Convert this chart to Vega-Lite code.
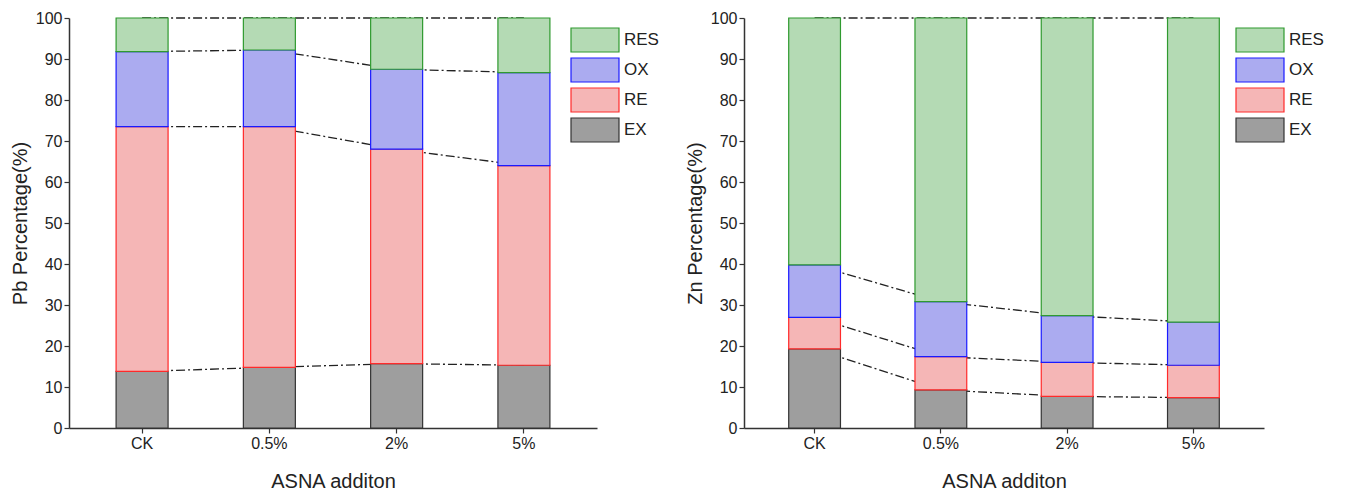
{
  "$schema": "https://vega.github.io/schema/vega-lite/v6.json",
  "padding": {"left": 10, "top": 10, "right": 0, "bottom": 0},
  "autosize": {"type": "pad"},
  "config": {
    "font": "Liberation Sans",
    "view": {"stroke": null},
    "axis": {
      "labelFontSize": 16, "titleFontSize": 20, "titleFontWeight": "normal",
      "labelColor": "#222", "titleColor": "#222",
      "domainColor": "#333", "tickColor": "#333", "domainWidth": 1.5, "tickWidth": 1.2,
      "tickSize": 5, "labelPadding": 2, "grid": false
    },
    "legend": {"labelFontSize": 17, "labelColor": "#222"}
  },
  "data": {"values": [
    {"metal": "Pb", "treat": "CK", "fraction": "EX", "rank": 1, "value": 13.8},
    {"metal": "Pb", "treat": "CK", "fraction": "RE", "rank": 2, "value": 59.7},
    {"metal": "Pb", "treat": "CK", "fraction": "OX", "rank": 3, "value": 18.3},
    {"metal": "Pb", "treat": "CK", "fraction": "RES", "rank": 4, "value": 8.2},
    {"metal": "Pb", "treat": "0.5%", "fraction": "EX", "rank": 1, "value": 14.8},
    {"metal": "Pb", "treat": "0.5%", "fraction": "RE", "rank": 2, "value": 58.7},
    {"metal": "Pb", "treat": "0.5%", "fraction": "OX", "rank": 3, "value": 18.7},
    {"metal": "Pb", "treat": "0.5%", "fraction": "RES", "rank": 4, "value": 7.8},
    {"metal": "Pb", "treat": "2%", "fraction": "EX", "rank": 1, "value": 15.7},
    {"metal": "Pb", "treat": "2%", "fraction": "RE", "rank": 2, "value": 52.3},
    {"metal": "Pb", "treat": "2%", "fraction": "OX", "rank": 3, "value": 19.5},
    {"metal": "Pb", "treat": "2%", "fraction": "RES", "rank": 4, "value": 12.5},
    {"metal": "Pb", "treat": "5%", "fraction": "EX", "rank": 1, "value": 15.3},
    {"metal": "Pb", "treat": "5%", "fraction": "RE", "rank": 2, "value": 48.7},
    {"metal": "Pb", "treat": "5%", "fraction": "OX", "rank": 3, "value": 22.7},
    {"metal": "Pb", "treat": "5%", "fraction": "RES", "rank": 4, "value": 13.3},
    {"metal": "Zn", "treat": "CK", "fraction": "EX", "rank": 1, "value": 19.3},
    {"metal": "Zn", "treat": "CK", "fraction": "RE", "rank": 2, "value": 7.7},
    {"metal": "Zn", "treat": "CK", "fraction": "OX", "rank": 3, "value": 12.8},
    {"metal": "Zn", "treat": "CK", "fraction": "RES", "rank": 4, "value": 60.2},
    {"metal": "Zn", "treat": "0.5%", "fraction": "EX", "rank": 1, "value": 9.3},
    {"metal": "Zn", "treat": "0.5%", "fraction": "RE", "rank": 2, "value": 8.1},
    {"metal": "Zn", "treat": "0.5%", "fraction": "OX", "rank": 3, "value": 13.4},
    {"metal": "Zn", "treat": "0.5%", "fraction": "RES", "rank": 4, "value": 69.2},
    {"metal": "Zn", "treat": "2%", "fraction": "EX", "rank": 1, "value": 7.7},
    {"metal": "Zn", "treat": "2%", "fraction": "RE", "rank": 2, "value": 8.3},
    {"metal": "Zn", "treat": "2%", "fraction": "OX", "rank": 3, "value": 11.4},
    {"metal": "Zn", "treat": "2%", "fraction": "RES", "rank": 4, "value": 72.6},
    {"metal": "Zn", "treat": "5%", "fraction": "EX", "rank": 1, "value": 7.4},
    {"metal": "Zn", "treat": "5%", "fraction": "RE", "rank": 2, "value": 7.9},
    {"metal": "Zn", "treat": "5%", "fraction": "OX", "rank": 3, "value": 10.5},
    {"metal": "Zn", "treat": "5%", "fraction": "RES", "rank": 4, "value": 74.2}
  ]},
  "spacing": 26,
  "resolve": {"scale": {"fill": "independent", "stroke": "independent"}, "legend": {"fill": "independent", "stroke": "independent"}},
  "hconcat": [
    {
      "width": 528, "height": 410,
      "transform": [
        {"filter": "datum.metal == 'Pb'"},
        {"stack": "value", "groupby": ["treat"], "sort": [{"field": "rank", "order": "ascending"}], "as": ["y0", "y1"]}
      ],
      "encoding": {
        "x": {"field": "treat", "type": "nominal", "sort": ["CK", "0.5%", "2%", "5%"],
              "scale": {"paddingInner": 0.5915, "paddingOuter": 0.37},
              "axis": {"title": "ASNA  additon", "labelAngle": 0, "titlePadding": 20}}
      },
      "layer": [
        {
          "mark": {"type": "line", "color": "#222", "strokeWidth": 1.3, "strokeDash": [9, 3, 2, 3]},
          "encoding": {
            "y": {"field": "y1", "type": "quantitative", "scale": {"domain": [0, 100]},
                  "axis": {"title": "Pb Percentage(%)", "values": [0,10,20,30,40,50,60,70,80,90,100], "titlePadding": 5}},
            "detail": {"field": "fraction"},
            "order": {"value": null}
          }
        },
        {
          "mark": {"type": "bar", "strokeWidth": 1.2, "opacity": 1},
          "encoding": {
            "y": {"field": "y0", "type": "quantitative"},
            "y2": {"field": "y1"},
            "fill": {"field": "fraction", "type": "nominal",
                     "scale": {"domain": ["RES", "OX", "RE", "EX"], "range": ["#b4dab4", "#ababf0", "#f5b6b6", "#9e9e9e"]},
                     "legend": {"orient": "none", "legendX": 513, "legendY": 9, "title": null,
                                "symbolType": "M-2,-1H2V1H-2Z", "symbolSize": 576, "labelOffset": 16,
                                "rowPadding": 0, "padding": 0, "symbolStrokeWidth": 1.2, "symbolOpacity": 1}},
            "stroke": {"field": "fraction", "type": "nominal",
                       "scale": {"domain": ["RES", "OX", "RE", "EX"], "range": ["#2f9a2f", "#1a1aff", "#ff2a2a", "#333333"]},
                       "legend": {"orient": "none", "legendX": 513, "legendY": 9, "title": null,
                                  "symbolType": "M-2,-1H2V1H-2Z", "symbolSize": 576, "labelOffset": 16,
                                  "rowPadding": 0, "padding": 0, "symbolStrokeWidth": 1.2, "symbolOpacity": 1}}
          }
        }
      ]
    },
    {
      "width": 520, "height": 410,
      "transform": [
        {"filter": "datum.metal == 'Zn'"},
        {"stack": "value", "groupby": ["treat"], "sort": [{"field": "rank", "order": "ascending"}], "as": ["y0", "y1"]}
      ],
      "encoding": {
        "x": {"field": "treat", "type": "nominal", "sort": ["CK", "0.5%", "2%", "5%"],
              "scale": {"paddingInner": 0.59, "paddingOuter": 0.354},
              "axis": {"title": "ASNA  additon", "labelAngle": 0, "titlePadding": 20}}
      },
      "layer": [
        {
          "mark": {"type": "line", "color": "#222", "strokeWidth": 1.3, "strokeDash": [9, 3, 2, 3]},
          "encoding": {
            "y": {"field": "y1", "type": "quantitative", "scale": {"domain": [0, 100]},
                  "axis": {"title": "Zn Percentage(%)", "values": [0,10,20,30,40,50,60,70,80,90,100], "titlePadding": 5}},
            "detail": {"field": "fraction"},
            "order": {"value": null}
          }
        },
        {
          "mark": {"type": "bar", "strokeWidth": 1.2, "opacity": 1},
          "encoding": {
            "y": {"field": "y0", "type": "quantitative"},
            "y2": {"field": "y1"},
            "fill": {"field": "fraction", "type": "nominal",
                     "scale": {"domain": ["RES", "OX", "RE", "EX"], "range": ["#b4dab4", "#ababf0", "#f5b6b6", "#9e9e9e"]},
                     "legend": {"orient": "none", "legendX": 503, "legendY": 9, "title": null,
                                "symbolType": "M-2,-1H2V1H-2Z", "symbolSize": 576, "labelOffset": 16,
                                "rowPadding": 0, "padding": 0, "symbolStrokeWidth": 1.2, "symbolOpacity": 1}},
            "stroke": {"field": "fraction", "type": "nominal",
                       "scale": {"domain": ["RES", "OX", "RE", "EX"], "range": ["#2f9a2f", "#1a1aff", "#ff2a2a", "#333333"]},
                       "legend": {"orient": "none", "legendX": 503, "legendY": 9, "title": null,
                                  "symbolType": "M-2,-1H2V1H-2Z", "symbolSize": 576, "labelOffset": 16,
                                  "rowPadding": 0, "padding": 0, "symbolStrokeWidth": 1.2, "symbolOpacity": 1}}
          }
        }
      ]
    }
  ]
}
